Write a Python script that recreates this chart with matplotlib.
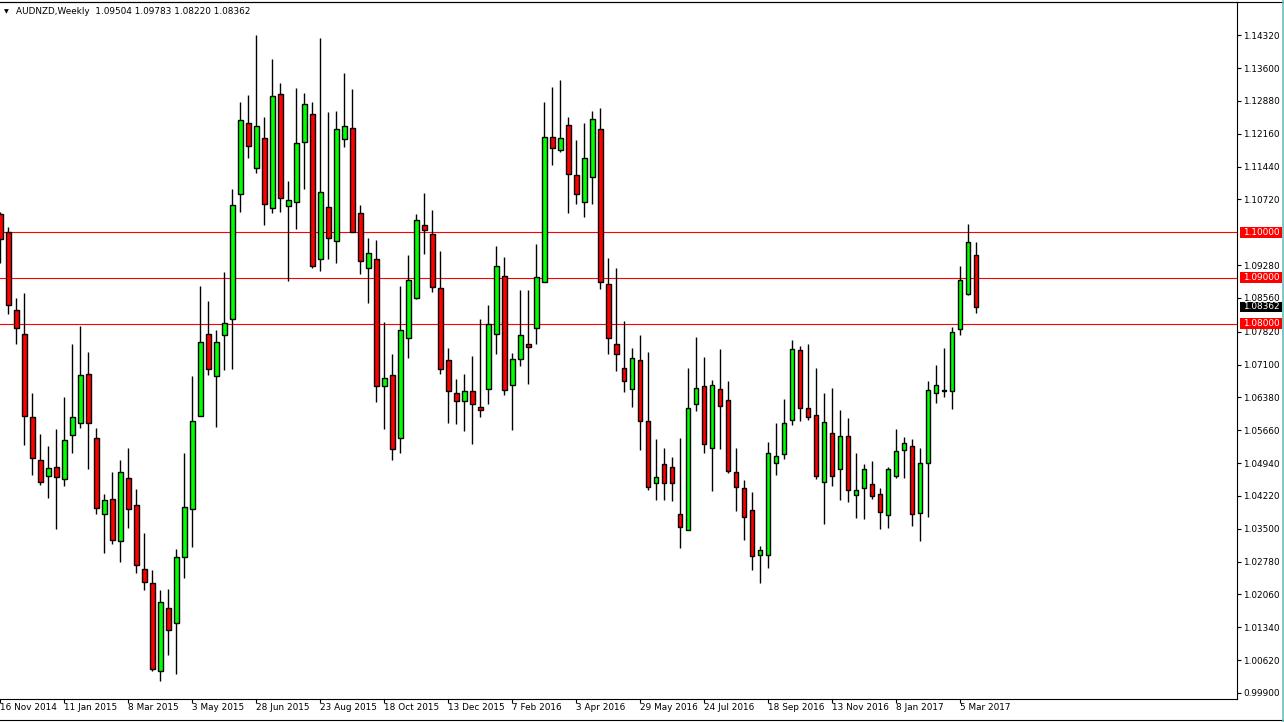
import matplotlib
matplotlib.use("Agg")
import matplotlib.pyplot as plt
from matplotlib.patches import Rectangle
from matplotlib.lines import Line2D
import numpy as np

# weekly AUDNZD candles, first visible bar = week of 16 Nov 2014
opens = [1.1040, 1.1000, 1.0829, 1.0778, 1.0596, 1.0501, 1.0466, 1.0486, 1.0458, 1.0556,
         1.0582, 1.0690, 1.0549, 1.0382, 1.0415, 1.0323, 1.0462, 1.0402, 1.0262, 1.0231,
         1.0037, 1.0177, 1.0143, 1.0288, 1.0393, 1.0598, 1.0776, 1.0684, 1.0774, 1.0809,
         1.1084, 1.1240, 1.1141, 1.1207, 1.1053, 1.1303, 1.1057, 1.1067, 1.1199, 1.1259,
         1.0941, 1.1056, 1.0982, 1.1204, 1.1229, 1.1042, 1.0921, 1.0941, 1.0662, 1.0686,
         1.0549, 1.0769, 1.0855, 1.1015, 1.0996, 1.0877, 1.0719, 1.0648, 1.0631, 1.0653,
         1.0616, 1.0657, 1.0778, 1.0905, 1.0666, 1.0723, 1.0754, 1.0791, 1.0890, 1.1210,
         1.1180, 1.1235, 1.1125, 1.1066, 1.1121, 1.1226, 1.0886, 1.0756, 1.0703, 1.0657,
         1.0721, 1.0587, 1.0451, 1.0492, 1.0486, 1.0382, 1.0347, 1.0624, 1.0662, 1.0527,
         1.0657, 1.0633, 1.0475, 1.0440, 1.0391, 1.0292, 1.0292, 1.0494, 1.0514, 1.0589,
         1.0741, 1.0615, 1.0600, 1.0453, 1.0560, 1.0481, 1.0554, 1.0424, 1.0440, 1.0448,
         1.0426, 1.0380, 1.0466, 1.0523, 1.0532, 1.0385, 1.0494, 1.0648, 1.0651, 1.0653,
         1.0787, 1.0864, 1.09504]
highs = [1.1045, 1.1011, 1.0857, 1.0867, 1.0647, 1.0557, 1.0532, 1.0569, 1.0638, 1.0756,
         1.0794, 1.0737, 1.0571, 1.0426, 1.0475, 1.0500, 1.0528, 1.0438, 1.0340, 1.0260,
         1.0216, 1.0218, 1.0305, 1.0517, 1.0684, 1.0882, 1.0849, 1.0785, 1.0913, 1.1095,
         1.1286, 1.1302, 1.1432, 1.1253, 1.1381, 1.1328, 1.1112, 1.1316, 1.1306, 1.1286,
         1.1425, 1.1264, 1.1267, 1.1350, 1.1314, 1.1060, 1.0988, 1.0983, 1.0803, 1.0733,
         1.0882, 1.0950, 1.1040, 1.1086, 1.1049, 1.0959, 1.0746, 1.0679, 1.0689, 1.0728,
         1.0810, 1.0840, 1.0970, 1.0945, 1.0736, 1.0873, 1.0873, 1.0974, 1.1286, 1.1319,
         1.1335, 1.1253, 1.1203, 1.1240, 1.1267, 1.1273, 1.0944, 1.0922, 1.0805, 1.0746,
         1.0774, 1.0737, 1.0546, 1.0526, 1.0508, 1.0548, 1.0702, 1.0770, 1.0726, 1.0677,
         1.0744, 1.0673, 1.0526, 1.0456, 1.0431, 1.0312, 1.0541, 1.0582, 1.0635, 1.0763,
         1.0750, 1.0755, 1.0702, 1.0647, 1.0658, 1.0610, 1.0592, 1.0515, 1.0493, 1.0499,
         1.0440, 1.0486, 1.0569, 1.0552, 1.0547, 1.0527, 1.0673, 1.0708, 1.0747, 1.0793,
         1.0926, 1.1018, 1.09783]
lows = [1.0932, 1.0820, 1.0755, 1.0534, 1.0467, 1.0445, 1.0417, 1.0349, 1.0444, 1.0516,
        1.0571, 1.0481, 1.0382, 1.0296, 1.0316, 1.0278, 1.0351, 1.0252, 1.0215, 1.0037,
        1.0015, 1.0073, 1.0032, 1.0243, 1.0309, 1.0597, 1.0687, 1.0573, 1.0698, 1.0700,
        1.1045, 1.1162, 1.1131, 1.1017, 1.1042, 1.1044, 1.0894, 1.1007, 1.1095, 1.0922,
        1.0916, 1.0942, 1.0933, 1.1188, 1.1000, 1.0909, 1.0845, 1.0628, 1.0568, 1.0501,
        1.0516, 1.0725, 1.0853, 1.0953, 1.0868, 1.0690, 1.0582, 1.0579, 1.0565, 1.0536,
        1.0595, 1.0623, 1.0733, 1.0644, 1.0566, 1.0707, 1.0667, 1.0755, 1.0890, 1.1147,
        1.1175, 1.1043, 1.1061, 1.1034, 1.1063, 1.0875, 1.0733, 1.0696, 1.0650, 1.0617,
        1.0523, 1.0435, 1.0412, 1.0412, 1.0410, 1.0307, 1.0347, 1.0608, 1.0516, 1.0432,
        1.0525, 1.0472, 1.0388, 1.0325, 1.0259, 1.0232, 1.0263, 1.0467, 1.0503, 1.0578,
        1.0587, 1.0589, 1.0459, 1.0360, 1.0443, 1.0412, 1.0408, 1.0373, 1.0371, 1.0415,
        1.0349, 1.0352, 1.0461, 1.0461, 1.0355, 1.0322, 1.0375, 1.0626, 1.0639, 1.0612,
        1.0775, 1.0862, 1.08220]
closes = [1.0985, 1.0840, 1.0791, 1.0598, 1.0505, 1.0453, 1.0484, 1.0464, 1.0545, 1.0596,
          1.0688, 1.0582, 1.0396, 1.0413, 1.0325, 1.0475, 1.0393, 1.0270, 1.0233, 1.0042,
          1.0189, 1.0127, 1.0288, 1.0398, 1.0587, 1.0760, 1.0701, 1.0760, 1.0802, 1.1059,
          1.1247, 1.1190, 1.1233, 1.1062, 1.1299, 1.1075, 1.1070, 1.1196, 1.1281, 1.0925,
          1.1088, 1.0987, 1.1226, 1.1232, 1.1001, 1.0938, 1.0954, 1.0664, 1.0681, 1.0525,
          1.0785, 1.0895, 1.1026, 1.1004, 1.0881, 1.0701, 1.0651, 1.0631, 1.0653, 1.0624,
          1.0611, 1.0798, 1.0927, 1.0655, 1.0723, 1.0774, 1.0749, 1.0903, 1.1209, 1.1185,
          1.1207, 1.1127, 1.1084, 1.1163, 1.1248, 1.0890, 1.0769, 1.0733, 1.0673, 1.0725,
          1.0587, 1.0442, 1.0464, 1.0451, 1.0451, 1.0354, 1.0615, 1.0659, 1.0536, 1.0666,
          1.0620, 1.0477, 1.0442, 1.0376, 1.0290, 1.0303, 1.0516, 1.0510, 1.0582, 1.0745,
          1.0615, 1.0596, 1.0466, 1.0585, 1.0466, 1.0554, 1.0435, 1.0435, 1.0481, 1.0422,
          1.0387, 1.0481, 1.0521, 1.0538, 1.0382, 1.0494, 1.0655, 1.0666, 1.0655, 1.0782,
          1.0895, 1.0978, 1.08362]

date_labels = ["16 Nov 2014", "11 Jan 2015", "8 Mar 2015", "3 May 2015", "28 Jun 2015",
               "23 Aug 2015", "18 Oct 2015", "13 Dec 2015", "7 Feb 2016", "3 Apr 2016",
               "29 May 2016", "24 Jul 2016", "18 Sep 2016", "13 Nov 2016", "8 Jan 2017",
               "5 Mar 2017"]
price_ticks = [1.14320, 1.13600, 1.12880, 1.12160, 1.11440, 1.10720, 1.09280, 1.08560,
               1.07820, 1.07100, 1.06380, 1.05660, 1.04940, 1.04220, 1.03500, 1.02780,
               1.02060, 1.01340, 1.00620, 0.99900]
levels = [1.10, 1.09, 1.08]

W, H = 1284, 722
fig = plt.figure(figsize=(W / 100, H / 100), dpi=100)
fig.patch.set_facecolor("white")
ax = fig.add_axes([0, (H - 699) / H, 1237 / W, 697 / H])

o = np.array(opens)
c = np.array(closes)
hi = np.array(highs)
lo = np.array(lows)
x = np.arange(len(o))
up = c >= o
cols = np.where(up, "#00ff00", "#ff0000")
bottoms = np.minimum(o, c)
heights = np.maximum(np.abs(c - o), 0.00008)

ax.vlines(x, lo, hi, color="black", linewidth=1.0, zorder=2)
ax.bar(x, heights, bottom=bottoms, width=0.56, color=cols, edgecolor="black",
       linewidth=1.0, zorder=3)

for lv in levels:
    ax.axhline(lv, color="#ff0000", linewidth=0.8, zorder=1)

ax.set_xlim(-0.04, 154.6)
ax.set_ylim(0.99766, 1.1505)

fs = 6.4
ax.spines["left"].set_visible(False)
for s in ["top", "right", "bottom"]:
    ax.spines[s].set_linewidth(0.8)

ax.yaxis.tick_right()
ax.set_yticks(price_ticks, [f"{v:.5f}" for v in price_ticks])
ax.tick_params(axis="y", direction="out", length=3, width=0.8, pad=1.5, labelsize=fs)

ax.set_xticks(np.arange(0, 8 * len(date_labels), 8), date_labels, ha="left")
ax.tick_params(axis="x", direction="out", length=3, width=0.8, pad=0, labelsize=fs)

# price boxes on the right scale
boxes = [(1.10, "#ff0000"), (1.09, "#ff0000"), (closes[-1], "black"), (1.08, "#ff0000")]
yt = ax.get_yaxis_transform()
for v, fc in boxes:
    ax.add_patch(Rectangle((1240 / 1237, v - 0.0012), 42 / 1237, 0.0024, transform=yt,
                           facecolor=fc, edgecolor="none", clip_on=False, zorder=5))
    ax.text(1243 / 1237, v, f"{v:.5f}", transform=yt, color="white", fontsize=fs,
            ha="left", va="center", clip_on=False, zorder=6)

# header
fig.text(4 / W, 1 - 12 / H, "\u25bc", fontsize=4.5, va="center", ha="left")
fig.text(16 / W, 1 - 12 / H,
         f"AUDNZD,Weekly  {opens[-1]:.5f} {highs[-1]:.5f} {lows[-1]:.5f} {closes[-1]:.5f}",
         fontsize=fs, va="center", ha="left")

# window borders
fig.add_artist(Line2D([0, 1], [1 - 2 / H, 1 - 2 / H], color="black", linewidth=0.8))
fig.add_artist(Line2D([0, 1], [1 - 720 / H, 1 - 720 / H], color="black", linewidth=0.8))
fig.add_artist(Line2D([1 - 1.5 / W, 1 - 1.5 / W], [0, 1], color="#6cbcbc", linewidth=1.2))

fig.savefig("out.png", dpi=100)
